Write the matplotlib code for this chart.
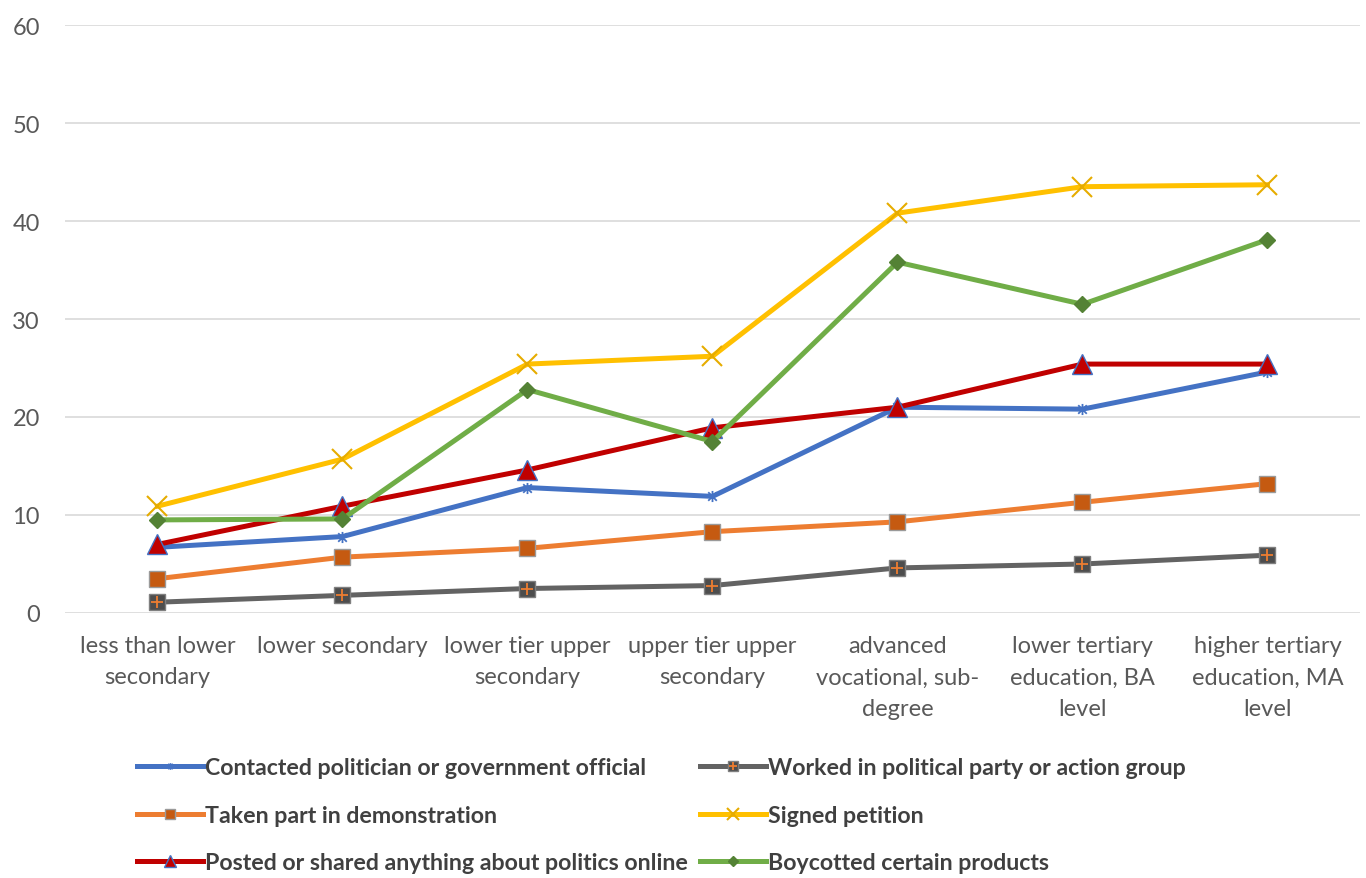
import matplotlib
matplotlib.use("Agg")
import matplotlib.pyplot as plt
from matplotlib.path import Path
from matplotlib.legend_handler import HandlerTuple

categories = ["less than lower\nsecondary", "lower secondary", "lower tier upper\nsecondary",
              "upper tier upper\nsecondary", "advanced\nvocational, sub-\ndegree",
              "lower tertiary\neducation, BA\nlevel", "higher tertiary\neducation, MA\nlevel"]
contacted = [6.7, 7.8, 12.8, 11.9, 21.0, 20.8, 24.6]
worked = [1.1, 1.8, 2.5, 2.8, 4.6, 5.0, 5.9]
demonstration = [3.5, 5.7, 6.6, 8.3, 9.3, 11.3, 13.2]
petition = [10.9, 15.7, 25.4, 26.2, 40.8, 43.5, 43.7]
posted = [7.0, 10.9, 14.6, 18.9, 21.0, 25.4, 25.4]
boycotted = [9.5, 9.6, 22.8, 17.5, 35.8, 31.5, 38.1]
yticks = [0, 10, 20, 30, 40, 50, 60]

plt.rcParams['font.family'] = ['Lato', 'DejaVu Sans']

fig = plt.figure(figsize=(13.66, 8.79), dpi=100)
ax = fig.add_axes([65/1366, 1-614/879, 1295/1366, 588/879])
x = list(range(len(categories)))

star = Path([(-1, -1), (1, 1), (-1, 1), (1, -1), (0, -1.3), (0, 1.3)],
            [Path.MOVETO, Path.LINETO, Path.MOVETO, Path.LINETO, Path.MOVETO, Path.LINETO])

lw = 3.6
h_contacted, = ax.plot(x, contacted, color='#4472C4', lw=lw, marker=star, ms=8,
                       mec='#4472C4', mew=1.3, zorder=3)
h_worked, = ax.plot(x, worked, color='#636363', lw=lw, marker='s', ms=11,
                    mfc='#4d4d4d', mec='#7f7f7f', mew=1, zorder=3)
h_worked_plus, = ax.plot(x, worked, ls='none', marker='+', ms=9, mec='#ED7D31', mew=1.3, zorder=4)
h_demo, = ax.plot(x, demonstration, color='#ED7D31', lw=lw, marker='s', ms=12,
                  mfc='#C55A11', mec='#9a9a9a', mew=1, zorder=3)
h_pet, = ax.plot(x, petition, color='#FFC000', lw=lw, marker='x', ms=15,
                 mec='#E6AC00', mew=1.5, zorder=3)
h_post, = ax.plot(x, posted, color='#C00000', lw=lw, marker='^', ms=15,
                  mfc='#C00000', mec='#4472C4', mew=1, zorder=3)
h_boy, = ax.plot(x, boycotted, color='#70AD47', lw=lw, marker='D', ms=8,
                 mfc='#548235', mec='#548235', mew=1, zorder=3)

ax.set_xlim(-0.5, 6.5)
ax.set_ylim(0, 60)
ax.set_yticks(yticks)
ax.set_xticks(x)
ax.set_xticklabels(categories, fontsize=17, color='#595959', linespacing=1.6)
ax.tick_params(axis='y', length=0, pad=18, labelsize=17, labelcolor='#595959')
ax.tick_params(axis='x', length=0, pad=16)
for s in ax.spines.values():
    s.set_visible(False)
ax.grid(axis='y', color='#D9D9D9', lw=1.2)
ax.set_axisbelow(True)

common = dict(loc='upper left', frameon=False, prop={'weight': 'bold', 'size': 16.7},
              labelcolor='#404040', handlelength=2.85, handletextpad=0.1,
              labelspacing=1.15, markerscale=0.6, borderpad=0, borderaxespad=0,
              handler_map={tuple: HandlerTuple(ndivide=1, pad=0)})
fig.legend([h_contacted, h_demo, h_post],
           ["Contacted politician or government official", "Taken part in demonstration",
            "Posted or shared anything about politics online"],
           bbox_to_anchor=(137/1366, 1-758/879), **common)
fig.legend([(h_worked, h_worked_plus), h_pet, h_boy],
           ["Worked in political party or action group", "Signed petition",
            "Boycotted certain products"],
           bbox_to_anchor=(700/1366, 1-758/879), **common)

fig.savefig("out.png", dpi=100)
